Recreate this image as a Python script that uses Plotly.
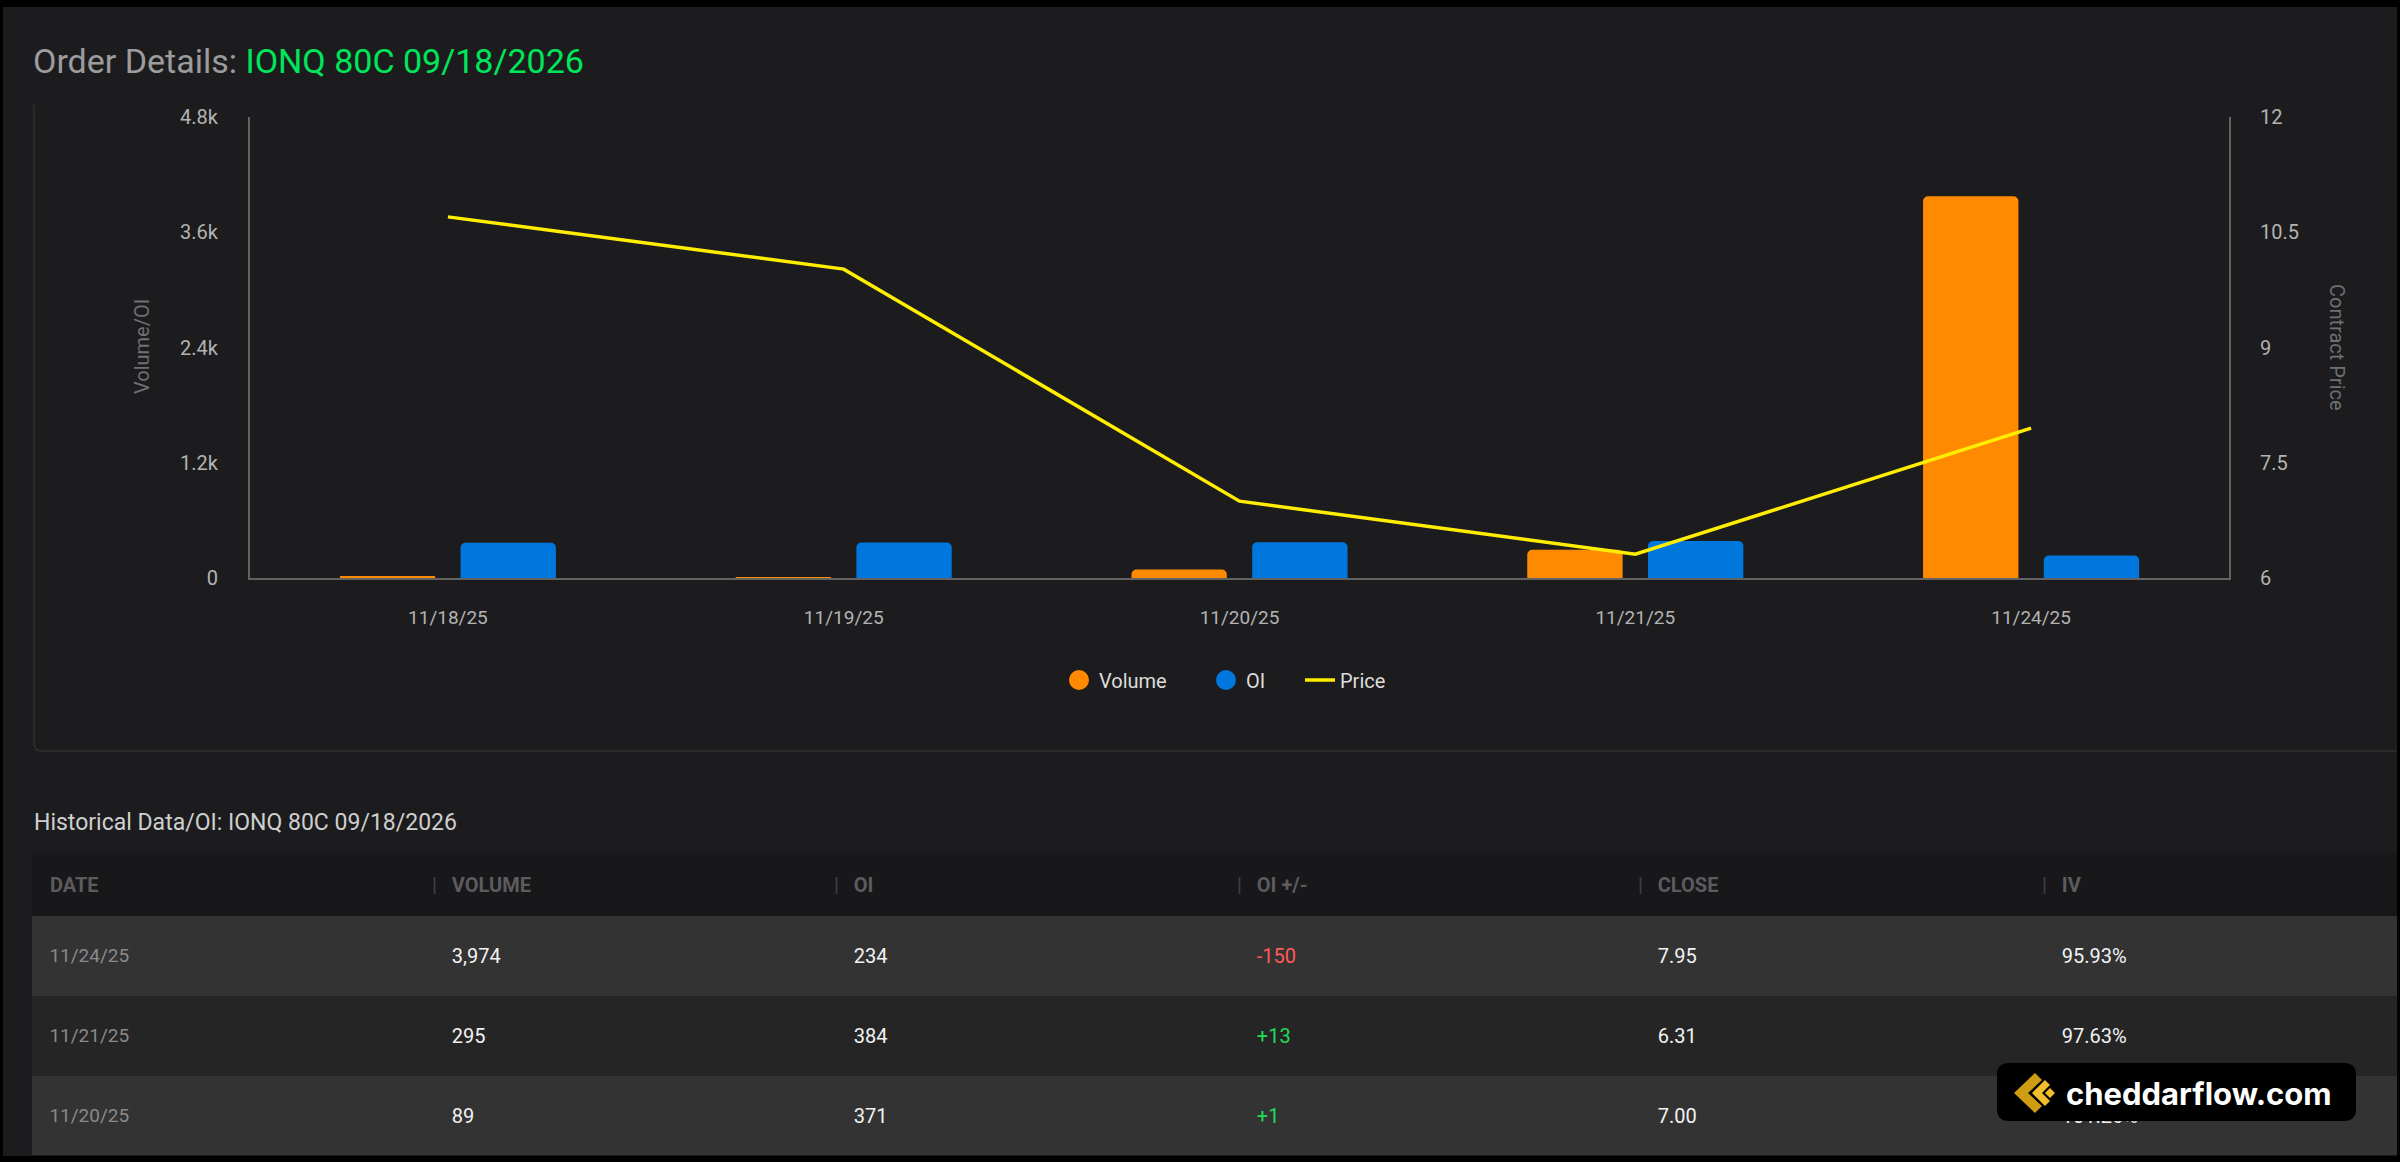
import plotly.graph_objects as go

W, H = 2400, 1162

# ---------------- data ----------------
dates = ["11/18/25", "11/19/25", "11/20/25", "11/21/25", "11/24/25"]
volume = [15, 8, 89, 295, 3974]
open_interest = [367, 370, 371, 384, 234]
price = [10.70, 10.02, 7.00, 6.31, 7.95]

vol_ticks = [0, 1200, 2400, 3600, 4800]
vol_ticktext = ["0", "1.2k", "2.4k", "3.6k", "4.8k"]
price_ticks = [6, 7.5, 9, 10.5, 12]
price_ticktext = ["6", "7.5", "9", "10.5", "12"]

table_headers = ["DATE", "VOLUME", "OI", "OI +/-", "CLOSE", "IV"]
table_dates = ["11/24/25", "11/21/25", "11/20/25"]
table_volume = [3974, 295, 89]
table_oi = [234, 384, 371]
table_oi_change = [-150, 13, 1]
table_close = [7.95, 6.31, 7.00]
table_iv = [95.93, 97.63, 101.26]

# ---------------- style ----------------
ORANGE = "#ff8a00"
BLUE = "#0077dd"
YELLOW = "#ffee00"
AXIS = "#626262"
TICK = "#b3b3b3"
PANEL = "#1c1c1e"
FONT = "Roboto, sans-serif"
NB = "\u00a0"


def X(px):
    return px / W


def Y(py):
    return 1 - py / H


def poly(points):
    s = "M " + " L ".join(f"{X(a):.6f},{Y(b):.6f}" for a, b in points)
    return s + " Z"


def rrect(x0, y0, x1, y1, r):
    p = [
        f"M {X(x0 + r):.6f},{Y(y0):.6f}",
        f"L {X(x1 - r):.6f},{Y(y0):.6f}",
        f"Q {X(x1):.6f},{Y(y0):.6f} {X(x1):.6f},{Y(y0 + r):.6f}",
        f"L {X(x1):.6f},{Y(y1 - r):.6f}",
        f"Q {X(x1):.6f},{Y(y1):.6f} {X(x1 - r):.6f},{Y(y1):.6f}",
        f"L {X(x0 + r):.6f},{Y(y1):.6f}",
        f"Q {X(x0):.6f},{Y(y1):.6f} {X(x0):.6f},{Y(y1 - r):.6f}",
        f"L {X(x0):.6f},{Y(y0 + r):.6f}",
        f"Q {X(x0):.6f},{Y(y0):.6f} {X(x0 + r):.6f},{Y(y0):.6f}",
        "Z",
    ]
    return " ".join(p)


fig = go.Figure()

# legend entries (circle symbols like the original), one legend per entry for spacing
fig.add_trace(go.Scatter(x=[None], y=[None], mode="markers", name="Volume",
                         legendgroup="vol", legend="legend",
                         marker=dict(color=ORANGE, size=16, line=dict(color=ORANGE, width=4))))
fig.add_trace(go.Scatter(x=[None], y=[None], mode="markers", name="OI",
                         legendgroup="oi", legend="legend2",
                         marker=dict(color=BLUE, size=16, line=dict(color=BLUE, width=4))))

fig.add_trace(go.Bar(x=dates, y=volume, name="Volume", legendgroup="vol",
                     showlegend=False, marker=dict(color=ORANGE, line=dict(width=0))))
fig.add_trace(go.Bar(x=dates, y=open_interest, name="OI", legendgroup="oi",
                     showlegend=False, marker=dict(color=BLUE, line=dict(width=0))))
fig.add_trace(go.Scatter(x=dates, y=price, name="Price", mode="lines", yaxis="y2",
                         legend="legend3", line=dict(color=YELLOW, width=3.5)))

# ---------------- table ----------------
# a tiny invisible first line sets the vertical placement of the visible text
hlead = "<span style='font-size:5px'>" + NB + "</span><br>"
sep = "<span style='color:#424245'>|</span>"
header_vals = []
for i, h in enumerate(table_headers):
    label = "<b>" + h.replace(" ", NB) + "</b>"
    header_vals.append(hlead + (NB * 2 if i == 0 else sep + NB * 3) + label)

clead = "<span style='font-size:14px'>" + NB + "</span><br>"
cell_vals = [
    [clead + NB * 2 + d for d in table_dates],
    [clead + NB * 4 + f"{v:,}" for v in table_volume],
    [clead + NB * 4 + f"{v:,}" for v in table_oi],
    [clead + NB * 4 + f"{v:+d}" for v in table_oi_change],
    [clead + NB * 4 + f"{v:.2f}" for v in table_close],
    [clead + NB * 4 + f"{v:.2f}%" for v in table_iv],
]
WHITE = "#f2f2f2"
chg_colors = ["#ff5a5a" if v < 0 else "#22dd55" for v in table_oi_change]
row_fill = ["#333334", "#252526", "#333334"]

fig.add_trace(go.Table(
    domain=dict(x=[X(32), X(2397)], y=[Y(1156), Y(853)]),
    columnwidth=[392, 402, 403, 401, 404, 363],
    header=dict(values=header_vals, height=63, align="left",
                fill=dict(color="#18181a"), line=dict(color="#18181a", width=0),
                font=dict(family=FONT, size=20, color="#5c5c5e")),
    cells=dict(values=cell_vals, height=80, align="left",
               fill=dict(color=[row_fill] * 6), line=dict(color="#2b2b2c", width=0),
               font=dict(family=FONT, size=[19, 20, 20, 20, 20, 20],
                         color=[["#8a8a8a"] * 3, [WHITE] * 3, [WHITE] * 3, chg_colors,
                                [WHITE] * 3, [WHITE] * 3])),
))

# ---------------- shapes ----------------
shapes = [
    dict(type="rect", xref="paper", yref="paper", x0=X(3), x1=X(2397), y0=Y(1156), y1=Y(7),
         fillcolor=PANEL, line=dict(width=0), layer="below"),
    dict(type="path", xref="paper", yref="paper",
         path=(f"M {X(34):.6f},{Y(105):.6f} L {X(34):.6f},{Y(743):.6f} "
               f"Q {X(34):.6f},{Y(751):.6f} {X(42):.6f},{Y(751):.6f} L {X(2397):.6f},{Y(751):.6f}"),
         line=dict(color="#2f2f31", width=1.5), layer="below"),
    # watermark badge
    dict(type="path", xref="paper", yref="paper", path=rrect(1997, 1063, 2356, 1121, 12),
         fillcolor="#000000", line=dict(width=0), layer="above"),
    dict(type="path", xref="paper", yref="paper",
         path=poly([(2035, 1073), (2014, 1093), (2035, 1113), (2042, 1106), (2028, 1093), (2042, 1080)]),
         fillcolor="#cf9d12", line=dict(width=0), layer="above"),
    dict(type="path", xref="paper", yref="paper",
         path=poly([(2045, 1080), (2032, 1093), (2045, 1106), (2050, 1101), (2042, 1093), (2050, 1085)]),
         fillcolor="#f0bf2a", line=dict(width=0), layer="above"),
    dict(type="path", xref="paper", yref="paper",
         path=poly([(2050, 1088), (2055, 1093), (2050, 1098), (2045, 1093)]),
         fillcolor="#f0bf2a", line=dict(width=0), layer="above"),
]

annotations = [
    dict(text="Volume/OI", x=X(142), y=Y(347), xref="paper", yref="paper", showarrow=False,
         xanchor="center", yanchor="middle",
         textangle=-90, font=dict(family=FONT, size=20, color="#707072")),
    dict(text="Contract Price", x=X(2337), y=Y(347), xref="paper", yref="paper", showarrow=False,
         xanchor="center", yanchor="middle",
         textangle=90, font=dict(family=FONT, size=20, color="#707072")),
    dict(text="Historical Data/OI: IONQ 80C 09/18/2026", x=X(32), y=Y(822), xref="paper", yref="paper",
         xanchor="left", yanchor="middle", showarrow=False,
         font=dict(family=FONT, size=23, color="#cfcfcf")),
    dict(text="<b>cheddarflow.com</b>", x=X(2064), y=Y(1093), xref="paper", yref="paper",
         xanchor="left", yanchor="middle", showarrow=False,
         font=dict(family="Inter, sans-serif", size=31, color="#ffffff")),
]

legend_common = dict(orientation="h", yanchor="middle", y=Y(680), xanchor="left",
                     font=dict(family=FONT, size=20, color="#dcdcdc"),
                     bgcolor="rgba(0,0,0,0)", borderwidth=0)

fig.update_layout(
    width=W, height=H,
    margin=dict(l=0, r=0, t=0, b=0, pad=0, autoexpand=False),
    paper_bgcolor="#000000",
    plot_bgcolor="rgba(0,0,0,0)",
    font=dict(family=FONT, size=20, color=TICK),
    barmode="group", bargap=0.39, bargroupgap=0.21, barcornerradius=5,
    title=dict(
        text=("<span style='color:#9c9c9e'>Order Details: </span>"
              "<span style='color:#00e65a'>IONQ 80C 09/18/2026</span>"),
        x=X(33), xanchor="left", y=Y(61), yanchor="middle", automargin=False,
        font=dict(family=FONT, size=34)),
    xaxis=dict(domain=[X(250), X(2229)], type="category", showline=True, linecolor=AXIS,
               linewidth=2, showgrid=False, zeroline=False, ticks="", ticklabelstandoff=21,
               automargin=False, tickfont=dict(family=FONT, size=19, color=TICK)),
    yaxis=dict(domain=[Y(578), Y(117)], range=[0, 4800], tickvals=vol_ticks, ticktext=vol_ticktext,
               showline=True, linecolor=AXIS, linewidth=2, showgrid=False, zeroline=False,
               ticks="", ticklabelstandoff=26, automargin=False,
               tickfont=dict(family=FONT, size=20, color=TICK)),
    yaxis2=dict(overlaying="y", side="right", anchor="x", range=[6, 12], tickvals=price_ticks,
                ticktext=price_ticktext, showline=True, linecolor=AXIS, linewidth=2,
                showgrid=False, zeroline=False, ticks="", ticklabelstandoff=25, automargin=False,
                tickfont=dict(family=FONT, size=20, color=TICK)),
    showlegend=True,
    legend=dict(legend_common, x=X(1059)),
    legend2=dict(legend_common, x=X(1206)),
    legend3=dict(legend_common, x=X(1300)),
    shapes=shapes,
    annotations=annotations,
)

fig.write_html("out.html")
